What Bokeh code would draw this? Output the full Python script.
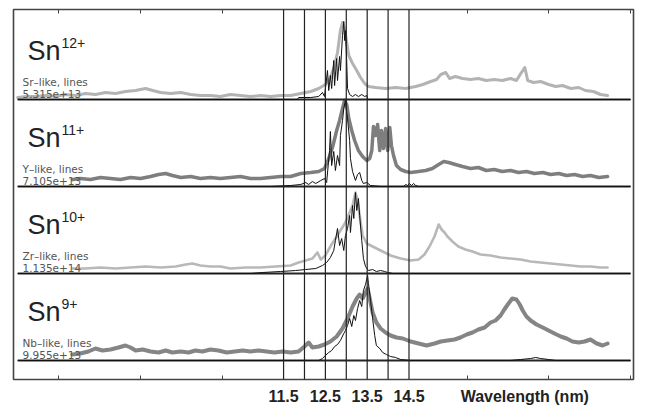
from bokeh.plotting import figure
from bokeh.models import (Range1d, Span, Label, LinearAxis, FixedTicker,
                          CustomJSTickFormatter)
from bokeh.embed import file_html
from bokeh.resources import INLINE

# ---------------- data ----------------
ion_charges = ["12+", "11+", "10+", "9+"]
like_labels = ["Sr\u2013like, lines", "Y\u2013like, lines", "Zr\u2013like, lines", "Nb\u2013like, lines"]
scale_labels = ["5.315e+13", "7.105e+13", "1.135e+14", "9.955e+13"]

marker_lines_nm = [11.5, 12.0, 12.5, 13.0, 13.5, 14.0, 14.5]
tick_values = [11.5, 12.5, 13.5, 14.5, 17.27]
tick_labels = ["11.5", "12.5", "13.5", "14.5", "Wavelength (nm)"]
minor_tick_values = [6.12, 8.08, 10.04, 15.90, 17.84, 19.80]

# Sn12+ (Sr-like)
sn12_exp_x = [5.14, 5.33, 5.57, 5.81, 6.05, 6.28, 6.52, 6.76, 7.00, 7.24, 7.48, 7.72, 7.96, 8.20, 8.37,
              8.56, 8.80, 9.04, 9.28, 9.51, 9.75, 9.99, 10.23, 10.47, 10.71, 10.95, 11.19, 11.43, 11.67,
              11.91, 12.15, 12.34, 12.50, 12.62, 12.72, 12.79, 12.86, 12.91, 12.96, 13.01, 13.06, 13.15,
              13.25, 13.34, 13.44, 13.53, 13.70, 13.94, 14.18, 14.42, 14.66, 14.83, 15.02, 15.16, 15.26,
              15.38, 15.47, 15.61, 15.78, 15.97, 16.16, 16.35, 16.54, 16.73, 16.93, 17.07, 17.19, 17.27,
              17.34, 17.48, 17.65, 17.84, 18.01, 18.17, 18.37, 18.56, 18.72, 18.91, 19.08, 19.25]
sn12_exp_y = [2, 3, 3, 4, 3, 5, 4, 6, 5, 7, 6, 8, 9, 11, 9, 7, 6, 7, 5, 4, 4, 3, 5, 4, 3, 4, 3, 4, 4, 6,
              8, 11, 15, 22, 34, 47, 69, 77, 71, 57, 44, 36, 29, 22, 16, 13, 12, 11, 12, 11, 13, 15, 18, 20,
              25, 27, 21, 23, 21, 20, 21, 19, 20, 19, 21, 19, 27, 32, 19, 17, 18, 15, 13, 14, 11, 12, 9, 8, 5, 4]
sn12_lines_x = [5.14, 11.19, 11.83, 11.86, 12.15, 12.34, 12.43, 12.48, 12.55, 12.58, 12.62, 12.65, 12.70,
                12.72, 12.77, 12.79, 12.84, 12.86, 12.91, 12.94, 12.96, 12.98, 13.01, 13.03, 13.08, 13.15,
                13.22, 13.29, 13.37, 13.44, 13.49, 13.51, 19.80]
sn12_lines_y = [0, 0, 0, 2, 2, 3, 7, 3, 29, 9, 24, 11, 39, 14, 41, 19, 43, 29, 64, 78, 59, 69, 39, 11, 5,
                3, 5, 3, 5, 3, 4, 0, 0]

# Sn11+ (Y-like)
sn11_exp_x = [6.45, 6.64, 6.88, 7.12, 7.36, 7.60, 7.84, 8.08, 8.32, 8.51, 8.68, 8.84, 9.04, 9.28, 9.51,
              9.75, 9.99, 10.23, 10.47, 10.71, 10.95, 11.19, 11.43, 11.67, 11.91, 12.15, 12.34, 12.48,
              12.58, 12.67, 12.77, 12.84, 12.91, 12.96, 13.01, 13.06, 13.13, 13.20, 13.29, 13.39, 13.49,
              13.56, 13.61, 13.65, 13.70, 13.75, 13.80, 13.84, 13.89, 13.94, 13.99, 14.04, 14.08, 14.13,
              14.20, 14.30, 14.42, 14.54, 14.73, 14.90, 15.06, 15.21, 15.33, 15.45, 15.61, 15.78, 15.97,
              16.16, 16.35, 16.54, 16.73, 16.93, 17.12, 17.31, 17.50, 17.70, 17.89, 18.08, 18.27, 18.46,
              18.65, 18.84, 19.04, 19.25]
sn11_exp_y = [7, 8, 7, 9, 8, 7, 9, 8, 10, 12, 13, 11, 9, 10, 8, 9, 8, 9, 10, 8, 8, 9, 10, 10, 13, 14, 15,
              18, 28, 39, 56, 66, 78, 86, 82, 68, 56, 46, 36, 30, 26, 28, 36, 60, 51, 62, 36, 56, 38, 58,
              36, 59, 41, 31, 21, 17, 15, 14, 15, 16, 18, 22, 25, 24, 22, 20, 18, 19, 16, 17, 15, 16, 14,
              15, 13, 14, 12, 13, 11, 12, 10, 11, 9, 10]
sn11_lines_x = [5.14, 11.19, 11.67, 11.91, 12.03, 12.10, 12.19, 12.27, 12.39, 12.48, 12.53, 12.60, 12.62,
                12.65, 12.70, 12.74, 12.79, 12.84, 12.86, 12.91, 12.94, 12.98, 13.01, 13.03, 13.08, 13.10,
                13.15, 13.22, 13.27, 13.32, 13.37, 13.41, 13.49, 13.58, 13.82, 14.37, 14.42, 14.47, 14.51,
                14.56, 14.61, 14.66, 14.73, 19.80]
sn11_lines_y = [0, 0, 1, 2, 4, 2, 5, 3, 6, 8, 4, 36, 55, 21, 35, 16, 31, 21, 51, 66, 78, 86, 74, 68, 46,
                28, 15, 6, 12, 14, 6, 3, 4, 1, 0, 0, 2, 1, 3, 1, 3, 1, 0, 0]

# Sn10+ (Zr-like)
sn10_exp_x = [6.45, 6.76, 7.12, 7.48, 7.84, 8.20, 8.56, 8.92, 9.16, 9.32, 9.51, 9.75, 9.99, 10.23, 10.59,
              10.95, 11.31, 11.67, 11.86, 12.03, 12.19, 12.31, 12.39, 12.50, 12.62, 12.74, 12.86, 12.98,
              13.08, 13.15, 13.22, 13.27, 13.32, 13.39, 13.49, 13.63, 13.82, 14.06, 14.30, 14.54, 14.73,
              14.87, 14.99, 15.11, 15.21, 15.28, 15.35, 15.42, 15.54, 15.68, 15.85, 16.02, 16.21, 16.45,
              16.69, 16.93, 17.17, 17.41, 17.65, 17.89, 18.13, 18.37, 18.61, 18.84, 19.08, 19.25]
sn10_exp_y = [5, 5, 6, 5, 6, 7, 6, 7, 9, 10, 8, 7, 7, 5, 6, 6, 7, 8, 11, 13, 15, 21, 14, 18, 27, 35, 43,
              51, 61, 68, 81, 73, 58, 38, 30, 27, 23, 18, 15, 13, 14, 19, 27, 37, 49, 44, 41, 37, 32, 27,
              24, 22, 19, 18, 16, 15, 14, 12, 11, 10, 9, 8, 7, 7, 6, 6]
sn10_lines_x = [5.14, 10.71, 11.00, 11.43, 11.79, 12.03, 12.27, 12.43, 12.53, 12.62, 12.70, 12.74, 12.79,
                12.84, 12.89, 12.94, 12.98, 13.03, 13.08, 13.10, 13.15, 13.18, 13.22, 13.25, 13.29, 13.32,
                13.37, 13.41, 13.46, 13.53, 13.63, 13.72, 13.82, 13.92, 13.99, 14.11, 19.80]
sn10_lines_y = [0, 0, 1, 2, 3, 4, 5, 8, 11, 16, 23, 33, 45, 28, 35, 23, 38, 45, 58, 41, 68, 55, 81, 63,
                75, 58, 33, 15, 7, 3, 4, 2, 3, 2, 1, 0, 0]

# Sn9+ (Nb-like)
sn9_exp_x = [6.45, 6.64, 6.83, 7.00, 7.17, 7.36, 7.55, 7.72, 7.84, 7.96, 8.13, 8.32, 8.51, 8.68, 8.84,
             9.04, 9.23, 9.39, 9.56, 9.75, 9.94, 10.14, 10.33, 10.52, 10.71, 10.90, 11.09, 11.28, 11.48,
             11.67, 11.86, 12.00, 12.10, 12.19, 12.34, 12.48, 12.62, 12.77, 12.91, 13.03, 13.15, 13.25,
             13.32, 13.39, 13.46, 13.51, 13.56, 13.63, 13.72, 13.82, 13.94, 14.06, 14.20, 14.35, 14.54,
             14.73, 14.92, 15.11, 15.26, 15.42, 15.59, 15.73, 15.88, 16.02, 16.16, 16.31, 16.45, 16.57,
             16.69, 16.78, 16.88, 16.97, 17.07, 17.15, 17.22, 17.31, 17.41, 17.55, 17.70, 17.84, 17.98,
             18.13, 18.27, 18.41, 18.56, 18.70, 18.84, 18.99, 19.13, 19.25]
sn9_exp_y = [6, 7, 9, 12, 10, 11, 13, 15, 13, 10, 11, 9, 8, 10, 8, 9, 8, 10, 9, 11, 10, 8, 9, 10, 9, 10,
             9, 8, 9, 8, 9, 14, 18, 13, 14, 16, 19, 24, 32, 42, 54, 62, 66, 62, 68, 72, 62, 48, 38, 32, 28,
             25, 23, 22, 19, 17, 15, 17, 19, 20, 21, 23, 26, 28, 31, 33, 38, 40, 45, 51, 57, 62, 61, 56,
             50, 44, 40, 36, 33, 30, 27, 24, 22, 19, 18, 19, 21, 17, 15, 17]
sn9_lines_x = [5.14, 12.34, 12.43, 12.50, 12.58, 12.65, 12.72, 12.79, 12.86, 12.94, 12.98, 13.03, 13.08,
               13.13, 13.18, 13.22, 13.27, 13.32, 13.37, 13.41, 13.46, 13.51, 13.53, 13.58, 13.63, 13.68,
               13.72, 13.80, 13.87, 13.96, 14.06, 14.18, 14.30, 14.54, 16.93, 17.17, 17.41, 17.53, 17.65,
               17.84, 18.01, 19.80]
sn9_lines_y = [0, 0, 2, 5, 8, 10, 14, 16, 20, 27, 30, 35, 42, 34, 45, 40, 52, 60, 54, 70, 76, 85, 77, 60,
               42, 25, 15, 12, 8, 6, 4, 3, 1, 0, 0, 1, 2, 3, 2, 1, 0, 0]

# ---------------- layout / style ----------------
panel_offsets = [280, 193, 106, 19]
exp_colors = ["#b3b3b3", "#7e7e7e", "#b8b8b8", "#858585"]
exp_widths = [3.0, 3.5, 2.6, 4.0]

panels = [
    (sn12_exp_x, sn12_exp_y, sn12_lines_x, sn12_lines_y),
    (sn11_exp_x, sn11_exp_y, sn11_lines_x, sn11_lines_y),
    (sn10_exp_x, sn10_exp_y, sn10_lines_x, sn10_lines_y),
    (sn9_exp_x, sn9_exp_y, sn9_lines_x, sn9_lines_y),
]

x0, x1 = 5.04, 19.87
p = figure(width=653, height=407, x_range=Range1d(x0, x1), y_range=Range1d(0, 370),
           output_backend="svg", toolbar_location=None, y_axis_location=None,
           min_border_left=13, min_border_right=20, min_border_top=9, min_border_bottom=28)
p.background_fill_color = "white"
p.border_fill_color = "white"
p.grid.visible = False
p.outline_line_color = "#444444"
p.outline_line_width = 1.6

for i, (ex, ey, lx, ly) in enumerate(panels):
    off = panel_offsets[i]
    p.line(ex, [off + v for v in ey], line_color=exp_colors[i],
           line_width=exp_widths[i], line_join="round", line_cap="round")

for i, (ex, ey, lx, ly) in enumerate(panels):
    off = panel_offsets[i]
    p.line([lx[0], lx[-1]], [off, off], line_color="#262626", line_width=1.8)
    p.line(lx, [off + v for v in ly], line_color="#111111", line_width=1.0)

for v in marker_lines_nm:
    p.add_layout(Span(location=v, dimension="height", line_color="#222222", line_width=1.2))

for i in range(4):
    off = panel_offsets[i]
    p.add_layout(Label(x=x0, y=off + 49, x_offset=14, text="Sn", text_font="Liberation Sans",
                       text_font_size="27px", text_color="#222222", text_baseline="alphabetic"))
    p.add_layout(Label(x=x0, y=off + 57, x_offset=48, text=ion_charges[i], text_font="Liberation Sans",
                       text_font_size="14px", text_color="#222222", text_baseline="alphabetic"))
    p.add_layout(Label(x=x0, y=off + 18, x_offset=9, text=like_labels[i], text_font="DejaVu Sans",
                       text_font_size="10.5px", text_color="#555555", text_baseline="alphabetic"))
    p.add_layout(Label(x=x0, y=off + 6, x_offset=9, text=scale_labels[i], text_font="DejaVu Sans",
                       text_font_size="10.5px", text_color="#555555", text_baseline="alphabetic"))

xa = p.xaxis[0]
xa.ticker = FixedTicker(ticks=tick_values, minor_ticks=minor_tick_values)
xa.formatter = CustomJSTickFormatter(args=dict(vals=tick_values, labs=tick_labels), code="""
const i = vals.findIndex(v => Math.abs(v - tick) < 1e-6);
return i >= 0 ? labs[i] : "";
""")
xa.axis_line_color = None
xa.major_tick_line_color = None
xa.major_tick_in = 0
xa.major_tick_out = 0
xa.minor_tick_in = 4
xa.minor_tick_out = 0
xa.minor_tick_line_color = "#444444"
xa.major_label_standoff = 8
xa.major_label_text_font = "Liberation Sans"
xa.major_label_text_font_style = "bold"
xa.major_label_text_font_size = "16px"
xa.major_label_text_color = "#222222"

top = LinearAxis(ticker=FixedTicker(ticks=[], minor_ticks=minor_tick_values),
                 axis_line_color=None, major_tick_line_color=None, major_tick_in=0, major_tick_out=0,
                 minor_tick_in=4, minor_tick_out=0, minor_tick_line_color="#444444",
                 major_label_text_font_size="0px", major_label_standoff=0)
p.add_layout(top, "above")

open("out.html", "w").write(file_html(p, INLINE))
